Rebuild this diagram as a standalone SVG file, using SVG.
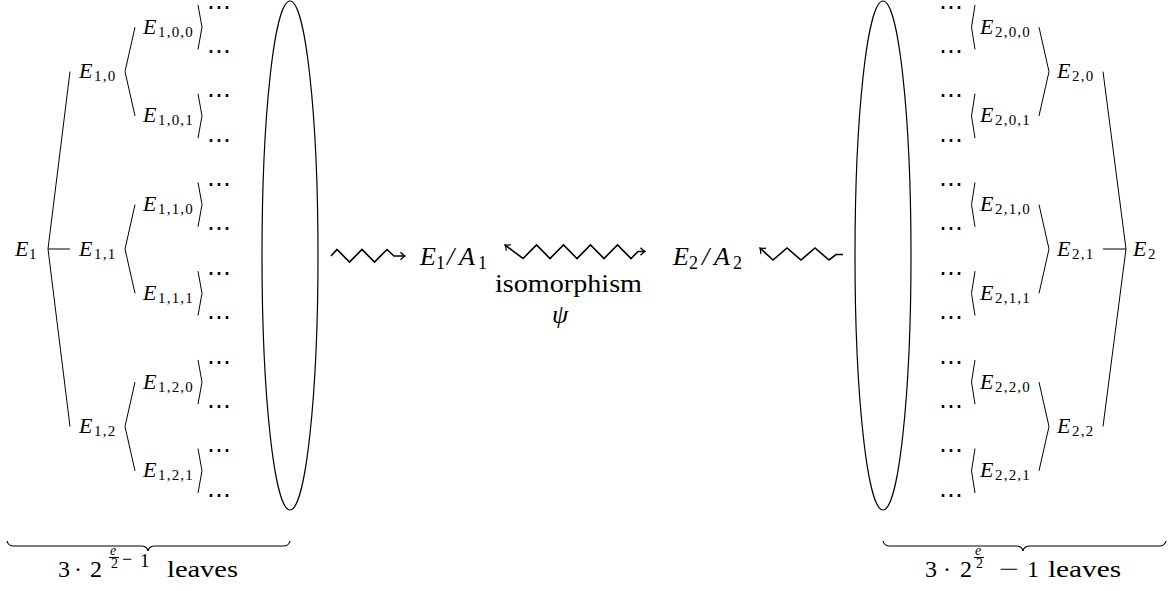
<svg xmlns="http://www.w3.org/2000/svg" width="1175" height="591" viewBox="0 0 1175 591">
<style>
.t{font-family:Liberation Serif,DejaVu Serif,serif;fill:#000}
.it{font-style:italic}
.lbl{font-size:22px}
.sub{font-size:15px;font-style:normal;letter-spacing:1.2px}
.dots{font-family:DejaVu Sans,sans-serif;font-size:24px;fill:#000}
.edge{fill:none;stroke:#000;stroke-width:1}
.zig{fill:none;stroke:#000;stroke-width:1.6;stroke-linejoin:miter}
.shape{fill:none;stroke:#000;stroke-width:1.2}
.big{font-size:26px}
.sup{font-size:14px}
</style>
<defs>
<marker id="to" viewBox="-6 -5 8 10" refX="0" refY="0" markerWidth="8" markerHeight="10" markerUnits="userSpaceOnUse" orient="auto-start-reverse">
<path d="M-4.5,-3.8 Q-2,-1 0,0 Q-2,1 -4.5,3.8" fill="none" stroke="#000" stroke-width="1.3"/>
</marker>
</defs>
<rect width="1175" height="591" fill="#fff"/>

<g id="connectors">
<path class="edge" d="M48,249 L70,71.6 M48,249 L70,249 M48,249 L70,426.5"/>
<polyline class="edge" points="135,27.2 125,71.6 135,115.9"/>
<polyline class="edge" points="135,204.6 125,249 135,293.4"/>
<polyline class="edge" points="135,382.1 125,426.5 135,470.8"/>
<polyline class="edge" points="198,5 202,27.2 198,49.4"/>
<polyline class="edge" points="198,93.7 202,115.9 198,138.1"/>
<polyline class="edge" points="198,182.4 202,204.6 198,226.8"/>
<polyline class="edge" points="198,271.2 202,293.4 198,315.5"/>
<polyline class="edge" points="198,359.9 202,382.1 198,404.2"/>
<polyline class="edge" points="198,448.6 202,470.8 198,493"/>
<polyline class="edge" points="975,5 971.5,27.2 975,49.4"/>
<polyline class="edge" points="975,93.7 971.5,115.9 975,138.1"/>
<polyline class="edge" points="975,182.4 971.5,204.6 975,226.8"/>
<polyline class="edge" points="975,271.2 971.5,293.4 975,315.5"/>
<polyline class="edge" points="975,359.9 971.5,382.1 975,404.2"/>
<polyline class="edge" points="975,448.6 971.5,470.8 975,493"/>
<polyline class="edge" points="1039,27.2 1049,71.6 1039,115.9"/>
<polyline class="edge" points="1039,204.6 1049,249 1039,293.4"/>
<polyline class="edge" points="1039,382.1 1049,426.5 1039,470.8"/>
<path class="edge" d="M1103,71.6 L1126,249 L1103,426.5 M1103,249 L1126,249"/>
<polyline class="zig" marker-end="url(#to)" points="331,256 337,249.5 349.5,262 362,249.5 374.5,262 387,249.5 394,256 405,256"/>
<polyline class="zig" marker-start="url(#to)" marker-end="url(#to)" points="505,245 523,258.5 536.5,245 550,258.5 563.5,245 577,258.5 590.5,245 604,258.5 617.5,245 631,258.5 638,251.5 645,251.5"/>
<polyline class="zig" marker-end="url(#to)" points="843,254.5 836,254.5 829,260 815,248 801,260 787,248 773,260 760,248"/>
</g>

<g id="ellipse-left"><ellipse class="shape" cx="290" cy="255.5" rx="28" ry="254.5"/></g>
<g id="ellipse-right"><ellipse class="shape" cx="883" cy="255.5" rx="28" ry="254.5"/></g>

<g font-family="Liberation Serif, DejaVu Serif, serif">
<g id="E1"><text class="t it lbl" x="15" y="255.5">E<tspan class="sub" x="29" y="258.5">1</tspan></text></g>
<g id="E1_0"><text class="t it lbl" x="79" y="78.1">E<tspan class="sub" x="94" y="81.1">1,0</tspan></text></g>
<g id="E1_1"><text class="t it lbl" x="79" y="255.5">E<tspan class="sub" x="94" y="258.5">1,1</tspan></text></g>
<g id="E1_2"><text class="t it lbl" x="79" y="433">E<tspan class="sub" x="94" y="436">1,2</tspan></text></g>
<g id="E1_0_0"><text class="t it lbl" x="143" y="33.7">E<tspan class="sub" x="158" y="36.7">1,0,0</tspan></text></g>
<g id="E1_0_1"><text class="t it lbl" x="143" y="122.4">E<tspan class="sub" x="158" y="125.4">1,0,1</tspan></text></g>
<g id="E1_1_0"><text class="t it lbl" x="143" y="211.1">E<tspan class="sub" x="158" y="214.1">1,1,0</tspan></text></g>
<g id="E1_1_1"><text class="t it lbl" x="143" y="299.9">E<tspan class="sub" x="158" y="302.9">1,1,1</tspan></text></g>
<g id="E1_2_0"><text class="t it lbl" x="143" y="388.6">E<tspan class="sub" x="158" y="391.6">1,2,0</tspan></text></g>
<g id="E1_2_1"><text class="t it lbl" x="143" y="477.3">E<tspan class="sub" x="158" y="480.3">1,2,1</tspan></text></g>

<g id="E2_0_0"><text class="t it lbl" x="980" y="33.7">E<tspan class="sub" x="995" y="36.7">2,0,0</tspan></text></g>
<g id="E2_0_1"><text class="t it lbl" x="980" y="122.4">E<tspan class="sub" x="995" y="125.4">2,0,1</tspan></text></g>
<g id="E2_1_0"><text class="t it lbl" x="980" y="211.1">E<tspan class="sub" x="995" y="214.1">2,1,0</tspan></text></g>
<g id="E2_1_1"><text class="t it lbl" x="980" y="299.9">E<tspan class="sub" x="995" y="302.9">2,1,1</tspan></text></g>
<g id="E2_2_0"><text class="t it lbl" x="980" y="388.6">E<tspan class="sub" x="995" y="391.6">2,2,0</tspan></text></g>
<g id="E2_2_1"><text class="t it lbl" x="980" y="477.3">E<tspan class="sub" x="995" y="480.3">2,2,1</tspan></text></g>
<g id="E2_0"><text class="t it lbl" x="1057" y="78.1">E<tspan class="sub" x="1072" y="81.1">2,0</tspan></text></g>
<g id="E2_1"><text class="t it lbl" x="1057" y="255.5">E<tspan class="sub" x="1072" y="258.5">2,1</tspan></text></g>
<g id="E2_2"><text class="t it lbl" x="1057" y="433">E<tspan class="sub" x="1072" y="436">2,2</tspan></text></g>
<g id="E2"><text class="t it lbl" x="1133" y="255.5">E<tspan class="sub" x="1148" y="258.5">2</tspan></text></g>

<g id="E1A1"><text class="t it big" x="420" y="265">E<tspan font-size="18" font-style="normal" x="436" y="269">1</tspan><tspan x="447" y="265">/</tspan><tspan x="459" y="265">A</tspan><tspan font-size="18" font-style="normal" x="478" y="269">1</tspan></text></g>
<g id="E2A2"><text class="t it big" x="673" y="265">E<tspan font-size="18" font-style="normal" x="689" y="269">2</tspan><tspan x="702" y="265">/</tspan><tspan x="714" y="265">A</tspan><tspan font-size="18" font-style="normal" x="733" y="269">2</tspan></text></g>
<g id="iso-label">
<text class="t big" x="495" y="292" textLength="147" lengthAdjust="spacingAndGlyphs">isomorphism</text>
<text class="t it big" x="552" y="323">ψ</text>
</g>

<g id="brace-left">
<path class="shape" d="M7,541 Q8,546 14,546 L141,546 Q147,546 148,551 Q149,546 155,546 L283,546 Q289,546 290,541"/>
<text class="t" font-size="24" x="58" y="577">3</text>
<text class="t" font-size="24" x="78" y="577" text-anchor="middle">·</text>
<text class="t" font-size="24" x="90" y="577">2</text>
<text class="t it sup" x="110" y="555">e</text>
<line x1="109" y1="557.5" x2="119" y2="557.5" stroke="#000" stroke-width="1"/>
<text class="t sup" x="111" y="568">2</text>
<text class="t" font-size="18" x="122" y="565">−</text>
<text class="t" font-size="19" x="140" y="567">1</text>
<text class="t" font-size="24" x="167" y="577" textLength="71" lengthAdjust="spacingAndGlyphs">leaves</text>
</g>
<g id="brace-right">
<path class="shape" d="M883,541 Q884,546 890,546 L1016,546 Q1022,546 1023,551 Q1024,546 1030,546 L1159,546 Q1165,546 1166,541"/>
<text class="t" font-size="24" x="925" y="577">3</text>
<text class="t" font-size="24" x="947" y="577" text-anchor="middle">·</text>
<text class="t" font-size="24" x="960" y="577">2</text>
<text class="t it sup" x="975" y="555">e</text>
<line x1="974" y1="557.5" x2="984" y2="557.5" stroke="#000" stroke-width="1"/>
<text class="t sup" x="976" y="568">2</text>
<text class="t" font-size="24" x="999" y="577" textLength="20" lengthAdjust="spacingAndGlyphs">−</text>
<text class="t" font-size="24" x="1027" y="577">1</text>
<text class="t" font-size="24" x="1048" y="577" textLength="73" lengthAdjust="spacingAndGlyphs">leaves</text>
</g>
</g>

<g id="leaves-left">
<text class="dots" x="207" y="14.6">⋯</text>
<text class="dots" x="207" y="59">⋯</text>
<text class="dots" x="207" y="103.3">⋯</text>
<text class="dots" x="207" y="147.7">⋯</text>
<text class="dots" x="207" y="192">⋯</text>
<text class="dots" x="207" y="236.4">⋯</text>
<text class="dots" x="207" y="280.8">⋯</text>
<text class="dots" x="207" y="325.1">⋯</text>
<text class="dots" x="207" y="369.5">⋯</text>
<text class="dots" x="207" y="413.8">⋯</text>
<text class="dots" x="207" y="458.2">⋯</text>
<text class="dots" x="207" y="502.6">⋯</text>
</g>
<g id="leaves-right">
<text class="dots" x="939" y="14.6">⋯</text>
<text class="dots" x="939" y="59">⋯</text>
<text class="dots" x="939" y="103.3">⋯</text>
<text class="dots" x="939" y="147.7">⋯</text>
<text class="dots" x="939" y="192">⋯</text>
<text class="dots" x="939" y="236.4">⋯</text>
<text class="dots" x="939" y="280.8">⋯</text>
<text class="dots" x="939" y="325.1">⋯</text>
<text class="dots" x="939" y="369.5">⋯</text>
<text class="dots" x="939" y="413.8">⋯</text>
<text class="dots" x="939" y="458.2">⋯</text>
<text class="dots" x="939" y="502.6">⋯</text>
</g>
</svg>
